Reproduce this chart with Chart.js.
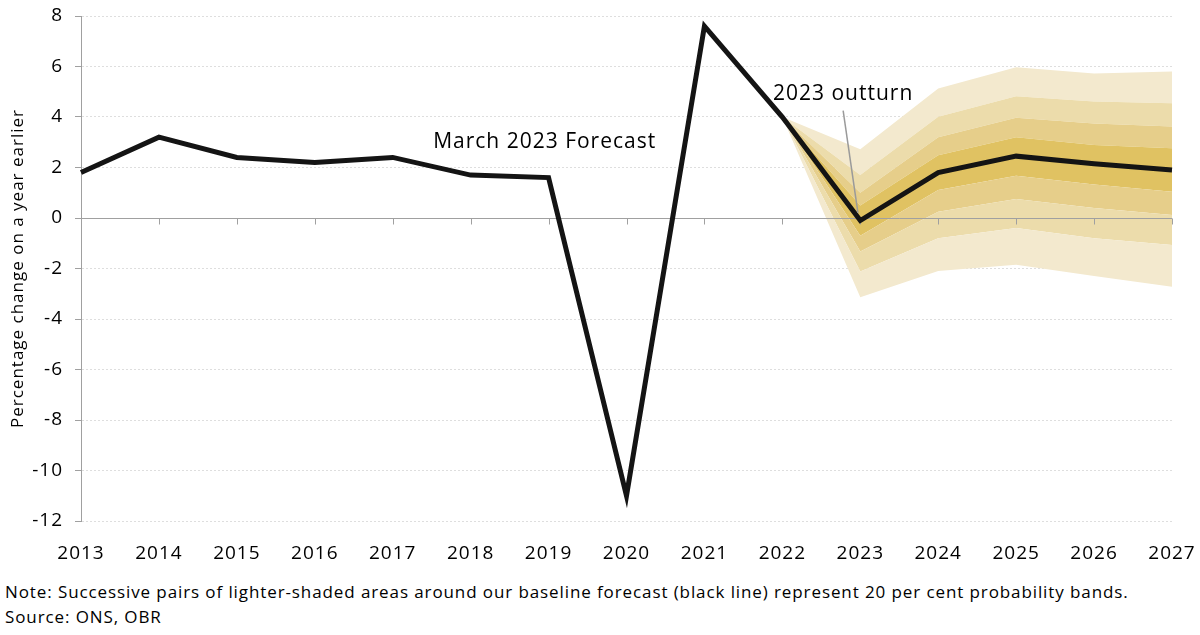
<!DOCTYPE html>
<html>
<head>
<meta charset="utf-8">
<script src="https://cdn.jsdelivr.net/npm/chart.js@4.4.0/dist/chart.umd.min.js"></script>
<style>
  body { margin: 0; background: #fff; font-family: "Open Sans", sans-serif; }
  #wrap { position: relative; width: 1200px; height: 570px; }
  .note { position: absolute; left: 5px; font-size: 17px; letter-spacing: 0.9px; color: #000; white-space: nowrap; }
</style>
</head>
<body>
<div id="wrap"><canvas id="chart"></canvas></div>
<div class="note" style="top:580px">Note: Successive pairs of lighter-shaded areas around our baseline forecast (black line) represent 20 per cent probability bands.</div>
<div class="note" style="top:605px">Source: ONS, OBR</div>
<script>
const years = ['2013', '2014', '2015', '2016', '2017', '2018', '2019', '2020', '2021', '2022', '2023', '2024', '2025', '2026', '2027'];
const growth = [1.8, 3.2, 2.4, 2.2, 2.4, 1.7, 1.6, -11.0, 7.6, 4.0, -0.1, 1.8, 2.45, 2.15, 1.9];

// fan chart percentiles, from 2022 onwards
const gap = [null, null, null, null, null, null, null, null, null];
const p10 = gap.concat([4.0, -3.14, -2.1, -1.85, -2.3, -2.72]);
const p20 = gap.concat([4.0, -2.12, -0.8, -0.4, -0.8, -1.07]);
const p30 = gap.concat([4.0, -1.33, 0.25, 0.75, 0.4, 0.12]);
const p40 = gap.concat([4.0, -0.7, 1.11, 1.67, 1.33, 1.04]);
const p60 = gap.concat([4.0, 0.5, 2.49, 3.2, 2.89, 2.76]);
const p70 = gap.concat([4.0, 1.0, 3.2, 3.97, 3.74, 3.62]);
const p80 = gap.concat([4.0, 1.7, 4.01, 4.82, 4.61, 4.54]);
const p90 = gap.concat([4.0, 2.72, 5.13, 5.97, 5.72, 5.8]);

const shade1 = '#f3e9ce';
const shade2 = '#ecdcab';
const shade3 = '#e6ce8a';
const shade4 = '#e0c262';
const font = '"Open Sans", sans-serif';

function band(data, color, fill) {
  return {
    data,
    borderWidth: 0,
    pointRadius: 0,
    backgroundColor: color,
    fill: fill ? '-1' : false,
    tension: 0,
    order: 1
  };
}

function xAt(scale, idx) {
  const step = scale.getPixelForValue(1) - scale.getPixelForValue(0);
  return scale.getPixelForValue(0) + idx * step;
}

// the reference font is wider, so space the letters out a little
const spacing = {
  id: 'spacing',
  beforeLayout(chart) { chart.ctx.letterSpacing = '1px'; },
  beforeDraw(chart) { chart.ctx.letterSpacing = '1px'; }
};

// zero line and x tick marks sit on top of the fan, under the black line
const zeroLine = {
  id: 'zeroLine',
  beforeDatasetDraw(chart, args) {
    if (args.index !== 0) return;
    const { ctx, chartArea, scales: { x, y } } = chart;
    const y0 = Math.round(y.getPixelForValue(0)) + 0.5;
    ctx.save();
    ctx.strokeStyle = '#a0a0a0';
    ctx.lineWidth = 1;
    ctx.beginPath();
    ctx.moveTo(chartArea.left, y0);
    ctx.lineTo(chartArea.right, y0);
    years.forEach((yr, i) => {
      const px = Math.round(x.getPixelForValue(i)) + 0.5;
      ctx.moveTo(px, y0);
      ctx.lineTo(px, y0 + 6);
    });
    ctx.stroke();
    ctx.restore();
  }
};

const labels = {
  id: 'labels',
  afterDatasetsDraw(chart) {
    const { ctx, scales: { x, y } } = chart;
    ctx.save();
    ctx.fillStyle = '#000';
    ctx.font = '21px ' + font;
    ctx.letterSpacing = '1px';
    ctx.textAlign = 'center';
    ctx.textBaseline = 'middle';
    ctx.fillText('March 2023 Forecast', xAt(x, 5.95), y.getPixelForValue(3.0));
    ctx.fillText('2023 outturn', xAt(x, 9.78), y.getPixelForValue(4.9));
    ctx.strokeStyle = '#9a9a9a';
    ctx.lineWidth = 1.5;
    ctx.beginPath();
    ctx.moveTo(xAt(x, 9.78), y.getPixelForValue(4.25));
    ctx.lineTo(xAt(x, 9.97), y.getPixelForValue(0.2));
    ctx.stroke();
    ctx.restore();
  }
};

new Chart(document.getElementById('chart'), {
  type: 'line',
  data: {
    labels: years,
    datasets: [
      {
        data: growth,
        borderColor: '#141414',
        borderWidth: 5,
        pointRadius: 0,
        tension: 0,
        borderJoinStyle: 'miter',
        fill: false,
        order: 0
      },
      band(p10, shade1, false),
      band(p20, shade1, true),
      band(p30, shade2, true),
      band(p40, shade3, true),
      band(p60, shade4, true),
      band(p70, shade3, true),
      band(p80, shade2, true),
      band(p90, shade1, true)
    ]
  },
  options: {
    responsive: true,
    maintainAspectRatio: false,
    animation: false,
    layout: { padding: { top: 16, right: 28, left: 0, bottom: 0 } },
    plugins: { legend: { display: false }, tooltip: { enabled: false } },
    scales: {
      x: {
        offset: false,
        grid: { display: false },
        border: { display: false },
        ticks: { color: '#000', font: { size: 19, family: font }, padding: 13, maxRotation: 0, autoSkip: false },
        afterFit: s => { s.height = 49; s.paddingLeft = 0; s.paddingRight = 0; }
      },
      y: {
        min: -12,
        max: 8,
        ticks: { stepSize: 2, color: '#000', font: { size: 19, family: font }, padding: 12 },
        grid: {
          color: ctx => ctx.tick && ctx.tick.value === 0 ? '#a0a0a0' : '#dedede',
          tickColor: '#a0a0a0',
          tickLength: 6,
          tickBorderDash: []
        },
        border: { color: '#a0a0a0', dash: ctx => ctx.tick && ctx.tick.value === 0 ? [] : [2, 2] },
        title: {
          display: true,
          text: 'Percentage change on a year earlier',
          color: '#000',
          font: { size: 17, family: font },
          padding: { top: 8, bottom: 0 }
        },
        afterFit: s => { s.width = 81; s.paddingTop = 0; s.paddingBottom = 0; }
      }
    }
  },
  plugins: [spacing, zeroLine, labels]
});
</script>
</body>
</html>
